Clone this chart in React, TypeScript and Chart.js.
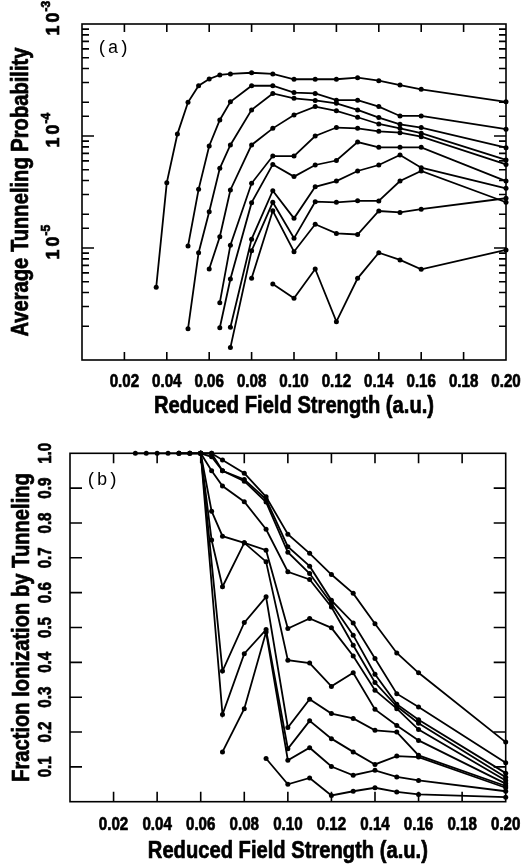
import React, { useEffect, useRef } from 'react';
import { Chart, registerables } from 'chart.js';

Chart.register(...registerables);

const SANS = '"Liberation Sans", Arial, sans-serif';
const MONO = '"Liberation Mono", "DejaVu Sans Mono", monospace';
// horizontal squeeze that gives the bold sans a narrow, condensed look
const SQUEEZE = 0.84;
// extra outline that makes the bold labels read as a heavy weight
const HEAVY = 0.7;

// Shared x axis labels (reduced field strength, a.u.)
const fieldTickLabels = ['0.02', '0.04', '0.06', '0.08', '0.10', '0.12', '0.14', '0.16', '0.18', '0.20'];
// Panel (a) decade labels, as powers of ten
const probTickPowers = [-3, -4, -5];
// Panel (b) y labels
const fracTickLabels = ['0.1', '0.2', '0.3', '0.4', '0.5', '0.6', '0.7', '0.8', '0.9', '1.0'];

const xTitle = 'Reduced Field Strength (a.u.)';
const yTitleA = 'Average Tunneling Probability';
const yTitleB = 'Fraction Ionization by Tunneling';

// ---- Panel (a): average tunneling probability ----
const aField1 = [0.035, 0.04, 0.045, 0.05, 0.055, 0.06, 0.065, 0.07, 0.08, 0.09, 0.1, 0.11, 0.12, 0.13, 0.14, 0.15, 0.16, 0.2];
const aProb1 = [4.46e-6, 3.83e-5, 1.04e-4, 2.0e-4, 2.81e-4, 3.23e-4, 3.51e-4, 3.58e-4, 3.67e-4, 3.58e-4, 3.21e-4, 3.21e-4, 3.21e-4, 3.32e-4, 3.12e-4, 2.85e-4, 2.61e-4, 2.02e-4];

const aField2 = [0.05, 0.055, 0.06, 0.065, 0.07, 0.08, 0.09, 0.1, 0.11, 0.12, 0.13, 0.14, 0.15, 0.16, 0.2];
const aProb2 = [1.04e-5, 3.34e-5, 8.15e-5, 1.39e-4, 2.02e-4, 2.81e-4, 2.81e-4, 2.44e-4, 2.4e-4, 2.09e-4, 2.09e-4, 1.83e-4, 1.51e-4, 1.51e-4, 1.15e-4];
const aProb3 = [1.9e-6, 9.08e-6, 2.11e-5, 5.15e-5, 8.32e-5, 1.71e-4, 2.4e-4, 2.17e-4, 2.08e-4, 1.96e-4, 1.71e-4, 1.46e-4, 1.27e-4, 1.19e-4, 7.87e-5];

const aField4 = [0.06, 0.065, 0.07, 0.08, 0.09, 0.1, 0.11, 0.12, 0.13, 0.14, 0.15, 0.16, 0.2];
const aProb4 = [6.49e-6, 1.26e-5, 3.3e-5, 8.32e-5, 1.17e-4, 1.54e-4, 1.83e-4, 1.68e-4, 1.47e-4, 1.28e-4, 1.17e-4, 1.06e-4, 6.11e-5];

const aField5 = [0.065, 0.07, 0.08, 0.09, 0.1, 0.11, 0.12, 0.13, 0.14, 0.15, 0.16, 0.2];
const aProb5 = [3.25e-6, 1.06e-5, 3.78e-5, 6.62e-5, 6.62e-5, 1.0e-4, 1.19e-4, 1.17e-4, 1.1e-4, 1.07e-4, 9.86e-5, 5.58e-5];
const aProb6 = [1.94e-6, 5.28e-6, 2.54e-5, 5.58e-5, 4.34e-5, 5.51e-5, 6.04e-5, 8.83e-5, 7.92e-5, 7.92e-5, 7.92e-5, 3.96e-5];

const aField7 = [0.07, 0.08, 0.09, 0.1, 0.11, 0.12, 0.13, 0.14, 0.15, 0.16, 0.2];
const aProb7 = [1.96e-6, 1.2e-5, 3.25e-5, 1.84e-5, 3.52e-5, 3.96e-5, 4.87e-5, 5.51e-5, 6.76e-5, 5.21e-5, 3.41e-5];
const aProb8 = [1.29e-6, 9.46e-6, 2.56e-5, 1.22e-5, 2.59e-5, 2.56e-5, 2.64e-5, 2.63e-5, 3.96e-5, 4.87e-5, 2.56e-5];

const aField9 = [0.08, 0.09, 0.1, 0.11, 0.12, 0.13, 0.14, 0.15, 0.16, 0.2];
const aProb9 = [5.36e-6, 2.15e-5, 9.27e-6, 1.63e-5, 1.35e-5, 1.32e-5, 2.14e-5, 2.08e-5, 2.22e-5, 2.78e-5];

const aField10 = [0.09, 0.1, 0.11, 0.12, 0.13, 0.14, 0.15, 0.16, 0.2];
const aProb10 = [4.77e-6, 3.56e-6, 6.49e-6, 2.2e-6, 5.36e-6, 9.08e-6, 7.82e-6, 6.46e-6, 9.6e-6];

// ---- Panel (b): fraction of ionization by tunneling ----
const bField1 = [0.03, 0.035, 0.04, 0.045, 0.05, 0.055, 0.06, 0.065, 0.07, 0.08, 0.09, 0.1, 0.11, 0.12, 0.13, 0.14, 0.15, 0.16, 0.2];
const bFrac1 = [1, 1, 1, 1, 1, 1, 1, 1, 0.981, 0.943, 0.875, 0.768, 0.713, 0.652, 0.598, 0.511, 0.427, 0.37, 0.171];

const bField2 = [0.05, 0.055, 0.06, 0.065, 0.07, 0.08, 0.09, 0.1, 0.11, 0.12, 0.13, 0.14, 0.15, 0.16, 0.2];
const bFrac2 = [1, 1, 1, 1, 0.95, 0.925, 0.868, 0.732, 0.676, 0.578, 0.513, 0.411, 0.31, 0.272, 0.112];
const bFrac3 = [1, 1, 1, 0.99, 0.95, 0.92, 0.86, 0.716, 0.655, 0.569, 0.478, 0.366, 0.28, 0.235, 0.082];

const bField4 = [0.06, 0.065, 0.07, 0.08, 0.09, 0.1, 0.11, 0.12, 0.13, 0.14, 0.15, 0.16, 0.2];
const bFrac4 = [1, 0.95, 0.906, 0.861, 0.782, 0.66, 0.638, 0.559, 0.449, 0.342, 0.274, 0.225, 0.07];
const bFrac5 = [1, 0.834, 0.762, 0.743, 0.722, 0.497, 0.526, 0.499, 0.418, 0.32, 0.267, 0.207, 0.061];
const bFrac6 = [1, 0.751, 0.617, 0.743, 0.689, 0.406, 0.398, 0.331, 0.37, 0.265, 0.219, 0.176, 0.052];

const bField7 = [0.06, 0.07, 0.08, 0.09, 0.1, 0.11, 0.12, 0.13, 0.14, 0.15, 0.16, 0.2];
const bFrac7 = [1, 0.375, 0.514, 0.588, 0.213, 0.294, 0.253, 0.239, 0.205, 0.2, 0.133, 0.045];
const bFrac8 = [1, 0.25, 0.425, 0.494, 0.152, 0.232, 0.181, 0.143, 0.107, 0.131, 0.128, 0.04];

const bField9 = [0.07, 0.08, 0.09, 0.1, 0.11, 0.12, 0.13, 0.14, 0.15, 0.16, 0.2];
const bFrac9 = [0.143, 0.267, 0.487, 0.119, 0.155, 0.101, 0.076, 0.09, 0.071, 0.061, 0.03];

const bField10 = [0.09, 0.1, 0.11, 0.12, 0.13, 0.14, 0.15, 0.16, 0.2];
const bFrac10 = [0.124, 0.05, 0.068, 0.018, 0.03, 0.04, 0.028, 0.021, 0.013];

type Curve = [number[], number[]];

const probCurves: Curve[] = [
  [aField1, aProb1], [aField2, aProb2], [aField2, aProb3], [aField4, aProb4], [aField5, aProb5],
  [aField5, aProb6], [aField7, aProb7], [aField7, aProb8], [aField9, aProb9], [aField10, aProb10],
];
const fracCurves: Curve[] = [
  [bField1, bFrac1], [bField2, bFrac2], [bField2, bFrac3], [bField4, bFrac4], [bField4, bFrac5],
  [bField4, bFrac6], [bField7, bFrac7], [bField7, bFrac8], [bField9, bFrac9], [bField10, bFrac10],
];

function toDatasets(curves: Curve[]) {
  return curves.map(([xs, ys]) => ({
    data: xs.map((x, i) => ({ x, y: ys[i] })),
    showLine: true,
    borderColor: '#000',
    borderWidth: 1.8,
    pointRadius: 2.5,
    pointHoverRadius: 2.5,
    pointBackgroundColor: '#000',
    pointBorderColor: '#000',
    pointBorderWidth: 0,
    clip: false as const,
  }));
}

// Heavy condensed text centred on (x, y); optionally rotated to read bottom-to-top
function squeezedText(ctx: CanvasRenderingContext2D, text: string, x: number, y: number, size: number, rotated: boolean) {
  ctx.save();
  ctx.translate(x, y);
  if (rotated) ctx.rotate(-Math.PI / 2);
  ctx.scale(SQUEEZE, 1);
  ctx.font = `bold ${size}px ${SANS}`;
  ctx.textAlign = 'center';
  ctx.textBaseline = 'middle';
  ctx.lineWidth = HEAVY;
  ctx.lineJoin = 'round';
  ctx.strokeStyle = '#000';
  ctx.fillText(text, 0, 0);
  ctx.strokeText(text, 0, 0);
  ctx.restore();
}

type FrameOpts = {
  id: string;
  xTickLen: number;
  yTickLen: (v: number) => number;
  tag: string;
  tagDx: number;
  tagDy: number;
  xLabelDy: number;
  xTitleY: number;
  yTitle: string;
  yTitleX: number;
  drawYLabels: (chart: any) => void;
};

// Box, inward tick marks, axis labels and titles, and the panel tag
function framePlugin(opts: FrameOpts) {
  return {
    id: opts.id,
    afterDraw(chart: any) {
      const { ctx, chartArea: a } = chart;
      const xs = chart.scales.x;
      const ys = chart.scales.y;
      ctx.save();
      ctx.strokeStyle = '#000';
      ctx.lineWidth = 1.6;
      ctx.strokeRect(a.left, a.top, a.right - a.left, a.bottom - a.top);
      ctx.beginPath();
      for (const t of xs.ticks) {
        const px = xs.getPixelForValue(t.value);
        if (px <= a.left + 1 || px >= a.right - 1) continue;
        ctx.moveTo(px, a.bottom);
        ctx.lineTo(px, a.bottom - opts.xTickLen);
        ctx.moveTo(px, a.top);
        ctx.lineTo(px, a.top + opts.xTickLen);
      }
      for (const t of ys.ticks) {
        const py = ys.getPixelForValue(t.value);
        if (py <= a.top + 1 || py >= a.bottom - 1) continue;
        const len = opts.yTickLen(t.value);
        ctx.moveTo(a.left, py);
        ctx.lineTo(a.left + len, py);
        ctx.moveTo(a.right, py);
        ctx.lineTo(a.right - len, py);
      }
      ctx.stroke();

      ctx.fillStyle = '#000';
      for (const label of fieldTickLabels) {
        const px = xs.getPixelForValue(parseFloat(label));
        squeezedText(ctx, label, px, a.bottom + opts.xLabelDy, 18, false);
      }
      squeezedText(ctx, xTitle, (a.left + a.right) / 2, opts.xTitleY, 24, false);
      squeezedText(ctx, opts.yTitle, opts.yTitleX, (a.top + a.bottom) / 2, 24, true);

      ctx.font = `18px ${MONO}`;
      ctx.textAlign = 'left';
      ctx.textBaseline = 'middle';
      ctx.fillText(opts.tag, a.left + opts.tagDx, a.top + opts.tagDy);

      opts.drawYLabels(chart);
      ctx.restore();
    },
  };
}

function isDecade(v: number) {
  const l = Math.log10(v);
  return Math.abs(l - Math.round(l)) < 1e-6;
}

function baseOptions(pad: { top: number; right: number }, xHeight: number, yWidth: number, yScale: any) {
  return {
    animation: false,
    responsive: false,
    devicePixelRatio: 1,
    events: [],
    layout: { padding: { left: 0, top: pad.top, right: pad.right, bottom: 0 } },
    plugins: { legend: { display: false }, tooltip: { enabled: false } },
    scales: {
      x: {
        type: 'linear',
        position: 'bottom',
        min: 0,
        max: 0.2,
        afterFit: (s: any) => { s.height = xHeight; },
        grid: { display: false },
        border: { display: false },
        ticks: { display: false, stepSize: 0.02, autoSkip: false },
      },
      y: {
        position: 'left',
        afterFit: (s: any) => { s.width = yWidth; },
        grid: { display: false },
        border: { display: false },
        ...yScale,
      },
    },
  };
}

function configA(): any {
  return {
    type: 'scatter',
    data: { datasets: toDatasets(probCurves) },
    options: baseOptions({ top: 24, right: 17 }, 70, 82, {
      type: 'logarithmic',
      min: 1e-6,
      max: 1e-3,
      ticks: { display: false },
    }),
    plugins: [
      framePlugin({
        id: 'frameA',
        xTickLen: 8,
        yTickLen: (v) => (isDecade(v) ? 12 : 7),
        tag: '(a)',
        tagDx: 15,
        tagDy: 24,
        xLabelDy: 22.5,
        xTitleY: 406,
        yTitle: yTitleA,
        yTitleX: 21,
        drawYLabels: (chart) => {
          const { ctx } = chart;
          const ys = chart.scales.y;
          for (const p of probTickPowers) {
            const py = ys.getPixelForValue(Math.pow(10, p));
            ctx.save();
            ctx.translate(59, py);
            ctx.rotate(-Math.PI / 2);
            ctx.font = `bold 18px ${SANS}`;
            ctx.textAlign = 'left';
            ctx.textBaseline = 'alphabetic';
            ctx.lineWidth = HEAVY;
            ctx.strokeStyle = '#000';
            // "1" and "0" set a little apart, exponent raised after them
            const w1 = ctx.measureText('1').width;
            const w0 = ctx.measureText('0').width;
            const gap = 3;
            const total = w1 + gap + w0;
            ctx.fillText('1', -total / 2, 0);
            ctx.strokeText('1', -total / 2, 0);
            ctx.fillText('0', -total / 2 + w1 + gap, 0);
            ctx.strokeText('0', -total / 2 + w1 + gap, 0);
            ctx.font = `bold 12px ${SANS}`;
            ctx.fillText(String(p), total / 2 + 1, -9);
            ctx.strokeText(String(p), total / 2 + 1, -9);
            ctx.restore();
          }
        },
      }),
    ],
  };
}

function configB(): any {
  return {
    type: 'scatter',
    data: { datasets: toDatasets(fracCurves) },
    options: baseOptions({ top: 23.3, right: 17.3 }, 65.3, 70, {
      type: 'linear',
      min: 0,
      max: 1,
      ticks: { display: false, stepSize: 0.1 },
    }),
    plugins: [
      framePlugin({
        id: 'frameB',
        xTickLen: 10,
        yTickLen: () => 12,
        tag: '(b)',
        tagDx: 16,
        tagDy: 27,
        xLabelDy: 23.3,
        xTitleY: 421,
        yTitle: yTitleB,
        yTitleX: 22.5,
        drawYLabels: (chart) => {
          const { ctx } = chart;
          const ys = chart.scales.y;
          for (const label of fracTickLabels) {
            const py = ys.getPixelForValue(parseFloat(label));
            squeezedText(ctx, label, 46.5, py, 18, true);
          }
        },
      }),
    ],
  };
}

export default function App() {
  const refA = useRef<HTMLCanvasElement>(null);
  const refB = useRef<HTMLCanvasElement>(null);

  useEffect(() => {
    const chartA = new Chart(refA.current as HTMLCanvasElement, configA());
    const chartB = new Chart(refB.current as HTMLCanvasElement, configB());
    return () => {
      chartA.destroy();
      chartB.destroy();
    };
  }, []);

  return (
    <div style={{ position: 'absolute', left: 0, top: 0, width: 523, height: 867, background: '#fff' }}>
      <canvas ref={refA} width={523} height={430} style={{ position: 'absolute', left: 0, top: 0, width: 523, height: 430 }} />
      <canvas ref={refB} width={523} height={437} style={{ position: 'absolute', left: 0, top: 430, width: 523, height: 437 }} />
    </div>
  );
}
